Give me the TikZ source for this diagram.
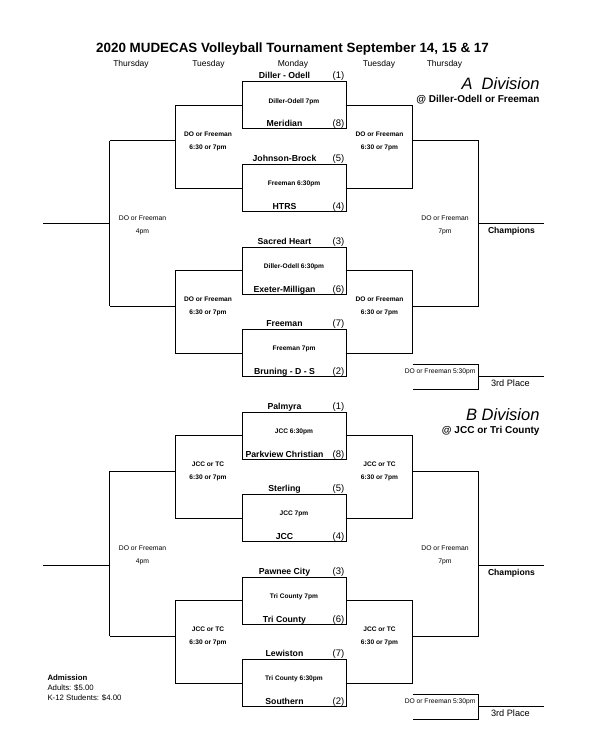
\documentclass[tikz,border=0pt]{standalone}
\usepackage{fontspec}
\setmainfont{Liberation Sans}
\usetikzlibrary{calc}

\tikzset{
  matchbox/.style={draw,minimum width=104pt,minimum height=47pt,inner sep=0pt},
  team/.style={anchor=base,inner sep=0pt,font=\fontsize{8.7}{11}\selectfont\bfseries},
  seed/.style={anchor=base,inner sep=0pt,font=\fontsize{9.5}{11}\selectfont},
  game/.style={inner sep=0pt,font=\fontsize{6.6}{8}\selectfont\bfseries},
  site/.style={inner sep=0pt,align=center,font=\fontsize{6.6}{13}\selectfont\bfseries},
  final/.style={inner sep=0pt,align=center,font=\fontsize{6.8}{13}\selectfont},
  day/.style={anchor=base,inner sep=0pt,font=\fontsize{8.5}{10}\selectfont},
  place/.style={anchor=base west,inner sep=0pt},
  division/.style={anchor=base east,inner sep=0pt,font=\fontsize{16.5}{18}\selectfont\itshape},
  venue/.style={anchor=base east,inner sep=0pt,font=\fontsize{10}{12}\selectfont\bfseries},
}

\begin{document}
\begin{tikzpicture}[x=1pt,y=-1pt,line width=1pt]
    \useasboundingbox (0,0) rectangle (589,754);
    % The heading
    \node[anchor=base,inner sep=0pt,font=\fontsize{13.4}{15}\selectfont\bfseries]
        (title) at (292.5,53) {2020 MUDECAS Volleyball Tournament September 14, 15 \& 17};
    \foreach \x/\dname [count=\i] in {131/Thursday,208.5/Tuesday,293/Monday,379/Tuesday,444.5/Thursday}
        \node[day] (day\i) at (\x,67) {\dname};
    % The divisions
    \node[division] (divA) at (540,90) {A\ \ Division};
    \node[venue] (venueA) at (540,103) {@ Diller-Odell or Freeman};
    \node[division] (divB) at (540,420.5) {B Division};
    \node[venue] (venueB) at (540,433.5) {@ JCC or Tri County};
    % First round games
    \foreach \n/\yt/\gm in {1/82/Diller-Odell 7pm,2/164.5/Freeman 6:30pm,
            3/247/Diller-Odell 6:30pm,4/329.5/Freeman 7pm,5/412/JCC 6:30pm,
            6/494.5/JCC 7pm,7/577/Tri County 7pm,8/659.5/Tri County 6:30pm}
    {
        \node[matchbox] (m\n) at (294,\yt+23.5) {};
        \node[game] (g\n) at ($(m\n.north)+(0,20)$) {\gm};
    }
    % The teams and seeds
    \foreach \n/\ta/\sa/\tb/\sbb in {1/Diller - Odell/1/Meridian/8,
            2/Johnson-Brock/5/HTRS/4,3/Sacred Heart/3/Exeter-Milligan/6,
            4/Freeman/7/Bruning - D - S/2,5/Palmyra/1/Parkview Christian/8,
            6/Sterling/5/JCC/4,7/Pawnee City/3/Tri County/6,8/Lewiston/7/Southern/2}
    {
        \node[team] (ta\n) at ($(m\n.north west)+(43,-2.5)$) {\ta};
        \node[seed] (sa\n) at ($(m\n.north east)+(-8,-2.5)$) {(\sa)};
        \node[team] (tb\n) at ($(m\n.south west)+(43,-2.5)$) {\tb};
        \node[seed] (sb\n) at ($(m\n.south east)+(-8,-2.5)$) {(\sbb)};
    }
    % Second round
    \foreach \a/\b/\st [count=\k] in {1/2/DO or Freeman,3/4/DO or Freeman,
            5/6/JCC or TC,7/8/JCC or TC}
    {
        \draw (m\a.west) -- ++(-66,0) |- (m\b.west);
        \draw (m\a.east) -- ++(66,0) |- (m\b.east);
        \coordinate (L\k) at ($(m\a.west)+(-66,35.5)$);
        \coordinate (R\k) at ($(m\a.east)+(66,35.5)$);
        \draw (L\k) -- ++(-66,0) coordinate (LL\k);
        \draw (R\k) -- ++(66,0) coordinate (RR\k);
        \node[site] (sl\k) at ($(L\k)+(32.5,0)$) {\st\\6:30 or 7pm};
        \node[site] (sr\k) at ($(R\k)+(-33,0)$) {\st\\6:30 or 7pm};
    }
    % Final, champions and 3rd place
    \foreach \p/\q/\d/\sh in {1/2/A/0,3/4/B/11.5}
    {
        \draw (LL\p) -- (LL\q);
        \draw (RR\p) -- (RR\q);
        \coordinate (f\d) at ($(LL\p)!0.5!(LL\q)+(0,\sh)$);
        \coordinate (c\d) at ($(RR\p)!0.5!(RR\q)+(0,\sh)$);
        \draw (f\d) -- ++(-67,0) coordinate (fe\d);
        \draw (c\d) -- ++(65,0) coordinate (ce\d);
        \node[final] (fl\d) at ($(LL\p)!0.5!(LL\q)+(33,1.5)$) {DO or Freeman\\4pm};
        \node[final] (fr\d) at ($(RR\p)!0.5!(RR\q)+(-33.5,1.5)$) {DO or Freeman\\7pm};
        \node[place,font=\fontsize{8.6}{10}\selectfont\bfseries] (champ\d)
            at ($(c\d)+(9,10)$) {Champions};
        \coordinate (p\d) at ($(RR\q)+(0,58.5)$);
        \draw ($(p\d)+(-66,0)$) -- (p\d) -- ++(0,24.5) coordinate (q\d) -- ++(-66,0);
        \draw ($(p\d)!0.5!(q\d)$) -- ++(65,0) coordinate (te\d);
        \node[anchor=east,inner sep=0pt,font=\fontsize{6.7}{8}\selectfont] (tp\d)
            at ($(p\d)+(-2.5,7)$) {DO or Freeman 5:30pm};
        \node[place,font=\fontsize{9.2}{10}\selectfont] (third\d)
            at ($(p\d)!0.5!(q\d)+(12,9.5)$) {3rd Place};
    }
    % Admission
    \node[anchor=north west,inner sep=0pt,align=left,font=\fontsize{7.8}{10}\selectfont]
        (adm) at (47,674) {\textbf{Admission}\\Adults: \$5.00\\K-12 Students: \$4.00};
\end{tikzpicture}
\end{document}
